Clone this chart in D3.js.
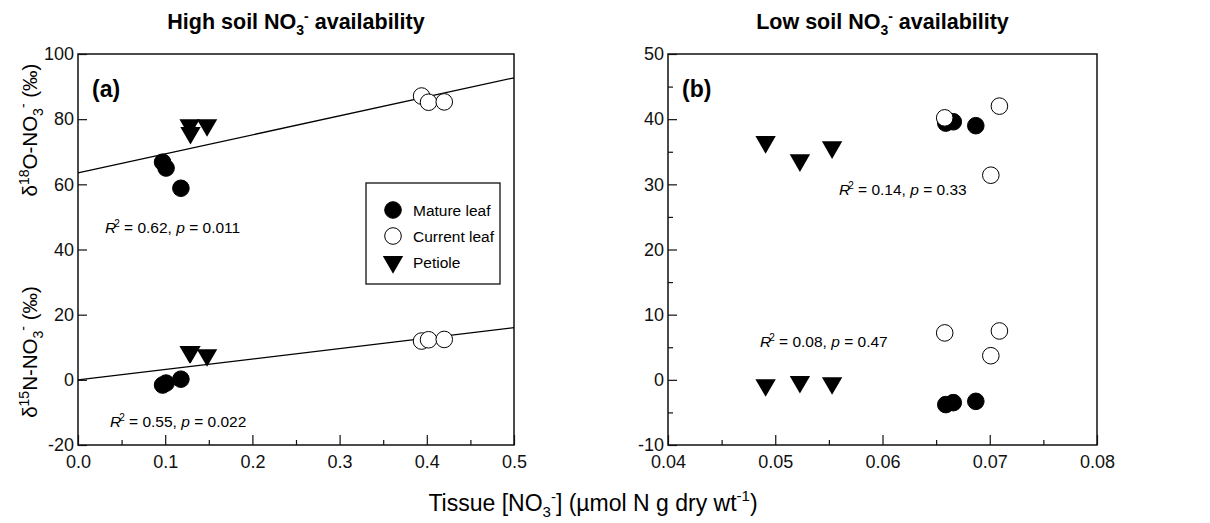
<!DOCTYPE html>
<html>
<head>
<meta charset="utf-8">
<script src="https://cdn.jsdelivr.net/npm/d3@7"></script>
<style>
  body { margin: 0; background: #fff; }
  svg { font-family: "Liberation Sans", Arial, Helvetica, sans-serif; }
  .tick text { font-size: 18px; fill: #111; }
  .tick line { stroke: #111; stroke-width: 1.2; }
</style>
</head>
<body>
<svg id="chart" width="1210" height="523"></svg>
<script>
// ---- data ----
// High soil NO3- (panel a)
const matureHighX = [0.097, 0.101, 0.118];
const matureHighO = [66.8, 65.0, 58.8];
const matureHighN = [-1.6, -1.0, 0.2];
const currentHighX = [0.394, 0.402, 0.420];
const currentHighO = [87.1, 85.2, 85.3];
const currentHighN = [11.9, 12.3, 12.4];
const petioleHighX = [0.128, 0.129, 0.148];
const petioleHighO = [78.2, 75.8, 78.2];
const petioleHighN = [8.6, 8.6, 7.6];
const fitHighO = [63.5, 58.4]; // intercept, slope
const fitHighN = [0.0, 32.0];

// Low soil NO3- (panel b)
const matureLowX = [0.0659, 0.0666, 0.0687];
const matureLowO = [39.4, 39.6, 39.0];
const matureLowN = [-3.8, -3.5, -3.3];
const currentLowX = [0.0658, 0.0701, 0.0709];
const currentLowO = [40.2, 31.4, 42.0];
const currentLowN = [7.2, 3.7, 7.5];
const petioleLowX = [0.0491, 0.0523, 0.0553];
const petioleLowO = [36.5, 33.7, 35.7];
const petioleLowN = [-0.8, -0.3, -0.5];

// ticks
const highXTicks = [0, 0.1, 0.2, 0.3, 0.4, 0.5];
const highXMinor = [0.05, 0.15, 0.25, 0.35, 0.45];
const highYTicks = [-20, 0, 20, 40, 60, 80, 100];
const highYMinor = [];
const lowXTicks = [0.04, 0.05, 0.06, 0.07, 0.08];
const lowXMinor = [0.045, 0.055, 0.065, 0.075];
const lowYTicks = [-10, 0, 10, 20, 30, 40, 50];
const lowYMinor = [-5, 5, 15, 25, 35, 45];

const svg = d3.select('#chart');

function pts(xs, ys) {
  return xs.map(function (x, i) { return { x: x, y: ys[i] }; });
}

// plain hyphen for negatives, like the original
function hyphen(fmt) {
  return function (d) { return fmt(d).replace('\u2212', '-'); };
}

function drawMarkers(g, x, y, data, kind) {
  if (kind === 'petiole') {
    var tri = d3.symbol().type(d3.symbolTriangle).size(180);
    g.selectAll(null).data(data).enter().append('path')
      .attr('d', tri)
      .attr('transform', function (d) { return 'translate(' + x(d.x) + ',' + y(d.y) + ') rotate(180)'; })
      .attr('fill', '#000');
  } else {
    g.selectAll(null).data(data).enter().append('circle')
      .attr('cx', function (d) { return x(d.x); })
      .attr('cy', function (d) { return y(d.y); })
      .attr('r', 8.3)
      .attr('fill', kind === 'mature' ? '#000' : '#fff')
      .attr('stroke', '#000')
      .attr('stroke-width', 1);
  }
}

function drawPanel(o) {
  var g = svg.append('g').attr('transform', 'translate(' + o.left + ',' + o.top + ')');
  var x = d3.scaleLinear().domain(o.xDomain).range([0, o.w]);
  var y = d3.scaleLinear().domain(o.yDomain).range([o.h, 0]);

  // minor ticks
  g.append('g').attr('transform', 'translate(0,' + o.h + ')')
    .call(d3.axisBottom(x).tickValues(o.xMinor).tickSizeInner(-5).tickSizeOuter(0).tickFormat(''))
    .call(function (a) { a.select('.domain').remove(); });
  g.append('g')
    .call(d3.axisLeft(y).tickValues(o.yMinor).tickSizeInner(-5).tickSizeOuter(0).tickFormat(''))
    .call(function (a) { a.select('.domain').remove(); });

  // major ticks
  g.append('g').attr('transform', 'translate(0,' + o.h + ')')
    .call(d3.axisBottom(x).tickValues(o.xTicks).tickSizeInner(-10).tickSizeOuter(0).tickPadding(10).tickFormat(o.xFormat))
    .call(function (a) { a.select('.domain').remove(); });
  g.append('g')
    .call(d3.axisLeft(y).tickValues(o.yTicks).tickSizeInner(-9).tickSizeOuter(0).tickPadding(4).tickFormat(hyphen(d3.format('d'))))
    .call(function (a) { a.select('.domain').remove(); });

  g.append('rect').attr('width', o.w).attr('height', o.h)
    .attr('fill', 'none').attr('stroke', '#111').attr('stroke-width', 1.5);

  // regression lines
  (o.fits || []).forEach(function (f) {
    g.append('line')
      .attr('x1', x(o.xDomain[0])).attr('y1', y(f[0] + f[1] * o.xDomain[0]))
      .attr('x2', x(o.xDomain[1])).attr('y2', y(f[0] + f[1] * o.xDomain[1]))
      .attr('stroke', '#000').attr('stroke-width', 1.3);
  });

  o.series.forEach(function (s) { drawMarkers(g, x, y, s.data, s.kind); });

  // panel letter
  g.append('text').attr('x', 14).attr('y', 43)
    .attr('font-size', 23).attr('font-weight', 'bold').text(o.letter);

  // R2 annotations
  o.notes.forEach(function (n) {
    var t = g.append('text').attr('x', n.x).attr('y', n.y).attr('font-size', 15.5);
    t.append('tspan').attr('font-style', 'italic').text('R');
    t.append('tspan').attr('font-size', 10).attr('dy', -6).attr('dx', -2).text('2');
    t.append('tspan').attr('dy', 6).text(' = ' + n.r + ', ');
    t.append('tspan').attr('font-style', 'italic').text('p');
    t.append('tspan').text(' = ' + n.p);
  });

  // title
  var t = svg.append('text').attr('x', o.left + o.w / 2).attr('y', 29)
    .attr('text-anchor', 'middle').attr('font-size', 21.5).attr('font-weight', 'bold');
  t.append('tspan').text(o.titleStart + ' soil NO');
  t.append('tspan').attr('font-size', 14).attr('dy', 6).text('3');
  t.append('tspan').attr('font-size', 14).attr('dy', -14).text('-');
  t.append('tspan').attr('dy', 8).text(' availability');

  return g;
}

var gA = drawPanel({
  left: 78, top: 54, w: 436, h: 391,
  xDomain: [0, 0.5], yDomain: [-20, 100],
  xTicks: highXTicks, xMinor: highXMinor, yTicks: highYTicks, yMinor: highYMinor,
  xFormat: d3.format('.1f'),
  fits: [fitHighO, fitHighN],
  series: [
    { kind: 'mature', data: pts(matureHighX, matureHighO).concat(pts(matureHighX, matureHighN)) },
    { kind: 'current', data: pts(currentHighX, currentHighO).concat(pts(currentHighX, currentHighN)) },
    { kind: 'petiole', data: pts(petioleHighX, petioleHighO).concat(pts(petioleHighX, petioleHighN)) }
  ],
  letter: '(a)',
  notes: [
    { x: 27, y: 179, r: '0.62', p: '0.011' },
    { x: 32, y: 373, r: '0.55', p: '0.022' }
  ],
  titleStart: 'High'
});

drawPanel({
  left: 668, top: 54, w: 429, h: 391,
  xDomain: [0.04, 0.08], yDomain: [-10, 50],
  xTicks: lowXTicks, xMinor: lowXMinor, yTicks: lowYTicks, yMinor: lowYMinor,
  xFormat: d3.format('.2f'),
  fits: [],
  series: [
    { kind: 'petiole', data: pts(petioleLowX, petioleLowO).concat(pts(petioleLowX, petioleLowN)) },
    { kind: 'mature', data: pts(matureLowX, matureLowO).concat(pts(matureLowX, matureLowN)) },
    { kind: 'current', data: pts(currentLowX, currentLowO).concat(pts(currentLowX, currentLowN)) }
  ],
  letter: '(b)',
  notes: [
    { x: 171, y: 141, r: '0.14', p: '0.33' },
    { x: 92, y: 293, r: '0.08', p: '0.47' }
  ],
  titleStart: 'Low'
});

// legend in panel a
var leg = gA.append('g').attr('transform', 'translate(288,129)');
leg.append('rect').attr('width', 134).attr('height', 101)
  .attr('fill', '#fff').attr('stroke', '#111').attr('stroke-width', 1.3);
var legendItems = [
  { kind: 'mature', label: 'Mature leaf' },
  { kind: 'current', label: 'Current leaf' },
  { kind: 'petiole', label: 'Petiole' }
];
legendItems.forEach(function (it, i) {
  var row = leg.append('g').attr('transform', 'translate(27,' + (27 + i * 26) + ')');
  drawMarkers(row, function () { return 0; }, function () { return 0; }, [{ x: 0, y: 0 }], it.kind);
  row.append('text').attr('x', 20).attr('y', 5.5).attr('font-size', 15.5).text(it.label);
});

// y axis labels (panel a)
function yLabel(cy, iso, el) {
  var t = svg.append('text')
    .attr('transform', 'translate(37,' + cy + ') rotate(-90)')
    .attr('text-anchor', 'middle').attr('font-size', 20.5);
  t.append('tspan').text('\u03B4');
  t.append('tspan').attr('font-size', 14).attr('dy', -8).text(iso);
  t.append('tspan').attr('dy', 8).text(el + '-NO');
  t.append('tspan').attr('font-size', 14).attr('dy', 6).text('3');
  t.append('tspan').attr('font-size', 14).attr('dy', -15).text('-');
  t.append('tspan').attr('dy', 9).text('  (\u2030)');
}
yLabel(130, '18', 'O');
yLabel(352, '15', 'N');

// x axis label
var xl = svg.append('text').attr('x', 593).attr('y', 511)
  .attr('text-anchor', 'middle').attr('font-size', 23);
xl.append('tspan').text('Tissue [NO');
xl.append('tspan').attr('font-size', 15).attr('dy', 6).text('3');
xl.append('tspan').attr('font-size', 15).attr('dy', -15).text('-');
xl.append('tspan').attr('dy', 9).text('] (\u00B5mol N g dry wt');
xl.append('tspan').attr('font-size', 15).attr('dy', -10).text('-1');
xl.append('tspan').attr('dy', 10).text(')');
</script>
</body>
</html>
